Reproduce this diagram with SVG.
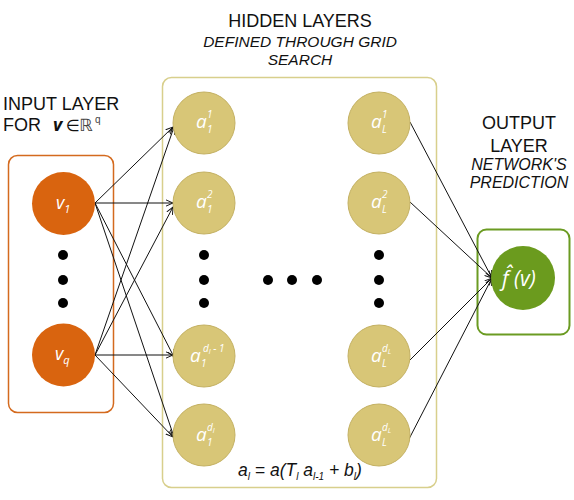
<svg xmlns="http://www.w3.org/2000/svg" width="574" height="500" viewBox="0 0 574 500">
<style>
.t{font-family:"Liberation Sans",Arial,sans-serif;fill:#111}
.ti{font-family:"Liberation Sans",Arial,sans-serif;font-style:italic;fill:#111}
.lbl{font-family:"Open Sans","Liberation Sans",sans-serif;font-style:italic;fill:#fff}
.hid{fill:#D8C677;stroke:#C4B163;stroke-width:1}
.inp{fill:#D9640F}
.dot{fill:#000}
.con line{stroke:#111;stroke-width:1}
</style>
<defs>
<marker id="ah" viewBox="0 0 10 10" refX="9" refY="5" markerWidth="8" markerHeight="8" orient="auto" markerUnits="userSpaceOnUse">
<path d="M0,1 L9,5 L0,9" fill="none" stroke="#111" stroke-width="1.2"/>
</marker>
</defs>
<rect width="574" height="500" fill="#fff"/>

<!-- titles -->
<text class="t" x="300" y="27" font-size="18" text-anchor="middle">HIDDEN LAYERS</text>
<text class="ti" x="300" y="47" font-size="15.5" text-anchor="middle">DEFINED THROUGH GRID</text>
<text class="ti" x="300" y="65" font-size="15.5" text-anchor="middle">SEARCH</text>
<text class="t" x="3" y="110" font-size="18">INPUT LAYER</text>
<text class="t" x="3" y="131" font-size="18">FOR <tspan x="53" font-style="italic" font-weight="bold" font-family="Open Sans,Liberation Sans,sans-serif">v</tspan><tspan x="66" font-family="DejaVu Sans,sans-serif" font-size="16">∈</tspan><tspan x="79" font-family="DejaVu Sans,sans-serif" font-size="17" fill="#444">ℝ</tspan><tspan x="95" dy="-8" font-size="10" fill="#444">q</tspan></text>
<text class="t" x="519" y="129" font-size="18" text-anchor="middle">OUTPUT</text>
<text class="t" x="519" y="152" font-size="18" text-anchor="middle">LAYER</text>
<text class="ti" x="519" y="170" font-size="16" text-anchor="middle">NETWORK'S</text>
<text class="ti" x="519" y="188" font-size="16" text-anchor="middle">PREDICTION</text>

<!-- containers -->
<rect id="input-box" x="8.5" y="155.5" width="105" height="257" rx="9" fill="none" stroke="#D46A1E" stroke-width="1.5"/>
<rect id="hidden-box" x="162.5" y="77.5" width="274" height="410" rx="9" fill="none" stroke="#D8CF8C" stroke-width="1.5"/>
<rect id="output-box" x="477.5" y="229.5" width="92" height="105" rx="9" fill="none" stroke="#6B9B22" stroke-width="2"/>

<!-- connectors -->
<g id="connectors" class="con">
<line x1="95" y1="203" x2="173" y2="127" marker-end="url(#ah)"/>
<line x1="95" y1="203" x2="173" y2="203" marker-end="url(#ah)"/>
<line x1="95" y1="203" x2="174" y2="357" marker-end="url(#ah)"/>
<line x1="95" y1="203" x2="174" y2="437" marker-end="url(#ah)"/>
<line x1="95" y1="355" x2="174" y2="127" marker-end="url(#ah)"/>
<line x1="95" y1="355" x2="173" y2="207" marker-end="url(#ah)"/>
<line x1="95" y1="355" x2="173" y2="355" marker-end="url(#ah)"/>
<line x1="95" y1="355" x2="173" y2="437" marker-end="url(#ah)"/>
<line x1="410" y1="122" x2="492" y2="278" marker-end="url(#ah)"/>
<line x1="410" y1="202" x2="492" y2="278" marker-end="url(#ah)"/>
<line x1="410" y1="360" x2="492" y2="278" marker-end="url(#ah)"/>
<line x1="409" y1="439" x2="492" y2="278" marker-end="url(#ah)"/>
</g>

<!-- input nodes -->
<g id="v1"><circle class="inp" cx="63.5" cy="203.5" r="31.5"/><text class="lbl" x="56" y="209" font-size="18">v<tspan font-size="11" dy="4">1</tspan></text></g>
<g id="vq"><circle class="inp" cx="63.5" cy="355" r="31.5"/><text class="lbl" x="55" y="360" font-size="18">v<tspan font-size="11" dy="4">q</tspan></text></g>
<g id="input-dots"><circle class="dot" cx="63" cy="255" r="5"/><circle class="dot" cx="63" cy="280" r="5"/><circle class="dot" cx="63" cy="303" r="5"/></g>

<!-- hidden layer 1 -->
<g id="a1-1"><circle class="hid" cx="204" cy="123" r="31"/><text class="lbl" x="196" y="128" font-size="19">a<tspan font-size="10" x="207" dy="5">1</tspan><tspan font-size="10" x="207" dy="-15">1</tspan></text></g>
<g id="a1-2"><circle class="hid" cx="204" cy="203" r="31"/><text class="lbl" x="196" y="208" font-size="19">a<tspan font-size="10" x="207" dy="5">1</tspan><tspan font-size="10" x="207" dy="-15">2</tspan></text></g>
<g id="a1-dots"><circle class="dot" cx="204" cy="255" r="5"/><circle class="dot" cx="204" cy="280" r="5"/><circle class="dot" cx="204" cy="303" r="5"/></g>
<g id="a1-dm1"><circle class="hid" cx="204" cy="356" r="31"/><text class="lbl" x="190" y="362" font-size="19">a<tspan font-size="10" x="201" dy="5">1</tspan><tspan font-size="10" x="203" dy="-15">d<tspan font-size="7" dy="2">l</tspan><tspan dy="-2"> - 1</tspan></tspan></text></g>
<g id="a1-d"><circle class="hid" cx="204" cy="435" r="31"/><text class="lbl" x="196" y="441" font-size="19">a<tspan font-size="10" x="207" dy="5">1</tspan><tspan font-size="10" x="207" dy="-15">d<tspan font-size="7" dy="2">l</tspan></tspan></text></g>

<!-- middle dots -->
<g id="mid-dots"><circle class="dot" cx="268" cy="280" r="5"/><circle class="dot" cx="292" cy="280" r="5"/><circle class="dot" cx="317" cy="280" r="5"/></g>

<!-- hidden layer L -->
<g id="aL-1"><circle class="hid" cx="379" cy="123" r="31"/><text class="lbl" x="371" y="128" font-size="19">a<tspan font-size="10" x="382" dy="5">L</tspan><tspan font-size="10" x="382" dy="-15">1</tspan></text></g>
<g id="aL-2"><circle class="hid" cx="379" cy="203" r="31"/><text class="lbl" x="371" y="208" font-size="19">a<tspan font-size="10" x="382" dy="5">L</tspan><tspan font-size="10" x="382" dy="-15">2</tspan></text></g>
<g id="aL-dots"><circle class="dot" cx="379" cy="255" r="5"/><circle class="dot" cx="379" cy="280" r="5"/><circle class="dot" cx="379" cy="303" r="5"/></g>
<g id="aL-dm1"><circle class="hid" cx="379" cy="356" r="31"/><text class="lbl" x="371" y="362" font-size="19">a<tspan font-size="10" x="382" dy="5">L</tspan><tspan font-size="10" x="382" dy="-15">d<tspan font-size="7" dy="2">L</tspan></tspan></text></g>
<g id="aL-d"><circle class="hid" cx="379" cy="435" r="31"/><text class="lbl" x="371" y="441" font-size="19">a<tspan font-size="10" x="382" dy="5">L</tspan><tspan font-size="10" x="382" dy="-15">d<tspan font-size="7" dy="2">L</tspan></tspan></text></g>

<!-- output -->
<g id="output"><circle cx="523" cy="278" r="32" fill="#6B9B1E"/><text class="lbl" x="502" y="286" font-size="21">f̂ (v)</text></g>

<!-- formula -->
<text class="ti" x="238" y="476" font-size="17.5" font-family="Open Sans,Liberation Sans,sans-serif">a<tspan font-size="10" dy="4">l</tspan><tspan dy="-4"> = a(T</tspan><tspan font-size="10" dy="4">l</tspan><tspan dy="-4"> a</tspan><tspan font-size="10" dy="4">l-1</tspan><tspan dy="-4"> + b</tspan><tspan font-size="10" dy="4">l</tspan><tspan dy="-4">)</tspan></text>
</svg>
